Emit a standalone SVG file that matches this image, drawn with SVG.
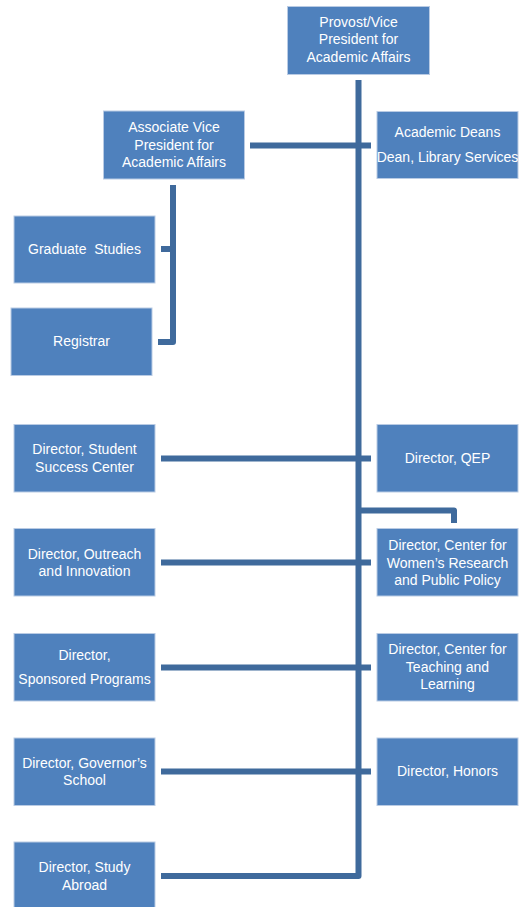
<svg xmlns="http://www.w3.org/2000/svg" width="520" height="907" viewBox="0 0 520 907">
<style>
.box{fill:#4F81BD;stroke:#B9CBE4;stroke-width:1}
.t{fill:#FFFFFF;font-family:"Liberation Sans",Arial,sans-serif;font-size:14px;text-anchor:middle}
.ln{fill:none;stroke:#3F6A9C;stroke-width:6;stroke-linejoin:round}
</style>
<rect width="520" height="907" fill="#FFFFFF"/>
<g id="connectors">
<path class="ln" d="M358.5 80 V876 H161"/>
<path class="ln" d="M250 145.5 H371"/>
<path class="ln" d="M173 185 V342 H158"/>
<path class="ln" d="M161 249 H173"/>
<path class="ln" d="M161 458.5 H371"/>
<path class="ln" d="M358.5 510.5 H454 V523"/>
<path class="ln" d="M161 562.5 H371"/>
<path class="ln" d="M161 667.5 H371"/>
<path class="ln" d="M161 771.5 H371"/>
</g>
<g id="provost"><rect class="box" x="287.5" y="6.5" width="142" height="68"/>
<text class="t" x="358.5" y="26.5">Provost/Vice</text><text class="t" x="358.5" y="44">President for</text><text class="t" x="358.5" y="61.5">Academic Affairs</text></g>
<g id="avp"><rect class="box" x="103.5" y="111" width="141" height="68"/>
<text class="t" x="174" y="132">Associate Vice</text><text class="t" x="174" y="149.5">President for</text><text class="t" x="174" y="166.5">Academic Affairs</text></g>
<g id="deans"><rect class="box" x="377" y="111.5" width="141" height="67"/>
<text class="t" x="447.5" y="136.5">Academic Deans</text><text class="t" x="447.5" y="161.5">Dean, Library Services</text></g>
<g id="graduate"><rect class="box" x="14" y="216" width="141" height="67"/>
<text class="t" x="84.5" y="254" xml:space="preserve">Graduate  Studies</text></g>
<g id="registrar"><rect class="box" x="11" y="308" width="141" height="67.5"/>
<text class="t" x="81.5" y="346">Registrar</text></g>
<g id="student-success"><rect class="box" x="14" y="424.5" width="141" height="67.5"/>
<text class="t" x="84.5" y="454">Director, Student</text><text class="t" x="84.5" y="471.5">Success Center</text></g>
<g id="qep"><rect class="box" x="377" y="424.5" width="141" height="67.5"/>
<text class="t" x="447.5" y="463">Director, QEP</text></g>
<g id="outreach"><rect class="box" x="14" y="528.5" width="141" height="67.5"/>
<text class="t" x="84.5" y="559">Director, Outreach</text><text class="t" x="84.5" y="576">and Innovation</text></g>
<g id="womens"><rect class="box" x="377" y="528.5" width="141" height="67.5"/>
<text class="t" x="447.5" y="550">Director, Center for</text><text class="t" x="447.5" y="567.5">Women’s Research</text><text class="t" x="447.5" y="585">and Public Policy</text></g>
<g id="sponsored"><rect class="box" x="14" y="633.5" width="141" height="67.5"/>
<text class="t" x="84.5" y="660">Director,</text><text class="t" x="84.5" y="684">Sponsored Programs</text></g>
<g id="ctl"><rect class="box" x="377" y="633.5" width="141" height="67.5"/>
<text class="t" x="447.5" y="654">Director, Center for</text><text class="t" x="447.5" y="671.5">Teaching and</text><text class="t" x="447.5" y="688.5">Learning</text></g>
<g id="governors"><rect class="box" x="14" y="738" width="141" height="67.5"/>
<text class="t" x="84.5" y="767.5">Director, Governor’s</text><text class="t" x="84.5" y="785">School</text></g>
<g id="honors"><rect class="box" x="377" y="738" width="141" height="67.5"/>
<text class="t" x="447.5" y="776">Director, Honors</text></g>
<g id="study-abroad"><rect class="box" x="14" y="842" width="141" height="66"/>
<text class="t" x="84.5" y="872">Director, Study</text><text class="t" x="84.5" y="889.5">Abroad</text></g>
</svg>
